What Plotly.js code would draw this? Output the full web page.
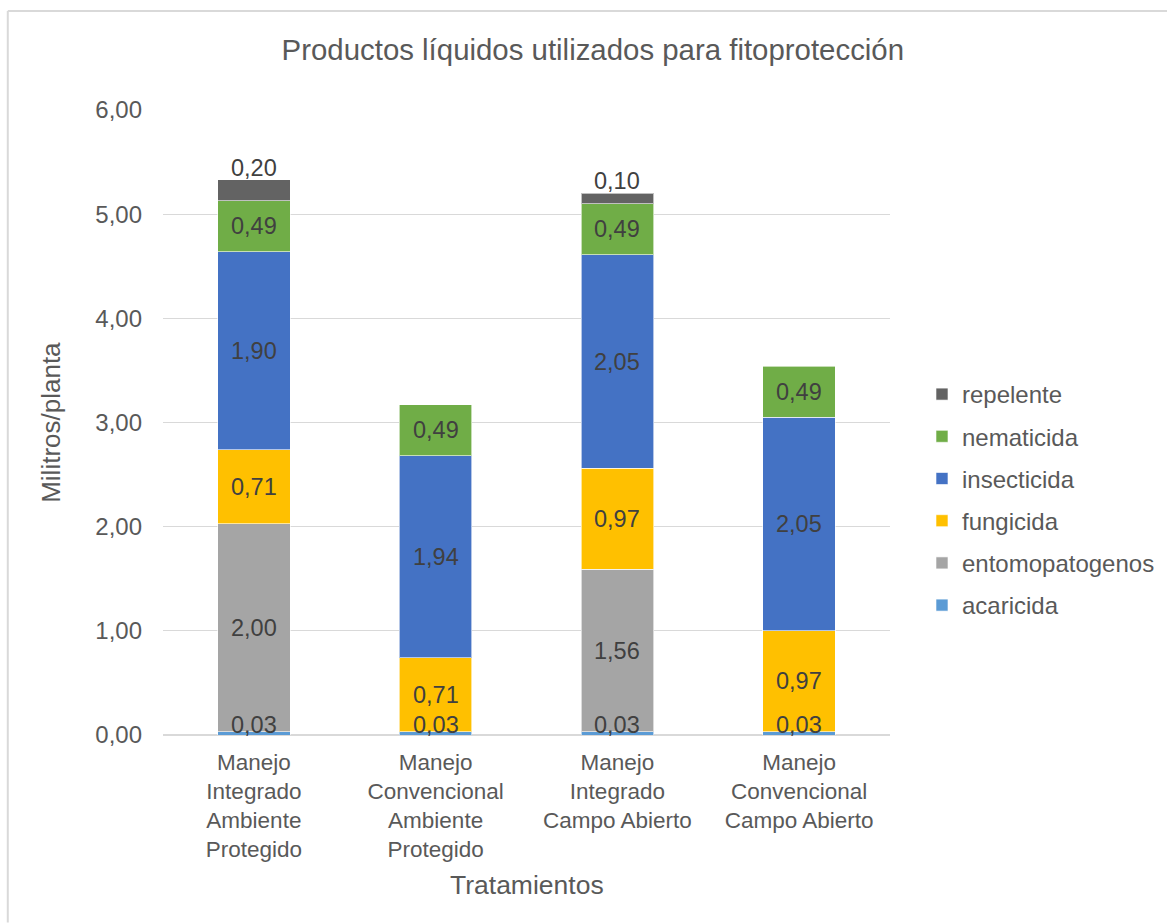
<!DOCTYPE html>
<html>
<head>
<meta charset="utf-8">
<script src="https://cdn.plot.ly/plotly-3.0.1.min.js"></script>
<style>html,body{margin:0;padding:0;background:#fff;}#chart{width:1167px;height:924px;}</style>
</head>
<body>
<div id="chart"></div>
<script>
const categories = [
  "Manejo<br>Integrado<br>Ambiente<br>Protegido",
  "Manejo<br>Convencional<br>Ambiente<br>Protegido",
  "Manejo<br>Integrado<br>Campo Abierto",
  "Manejo<br>Convencional<br>Campo Abierto"
];
const acaricida       = [0.03, 0.03, 0.03, 0.03];
const entomopatogenos = [2.00, null, 1.56, null];
const fungicida       = [0.71, 0.71, 0.97, 0.97];
const insecticida     = [1.90, 1.94, 2.05, 2.05];
const nematicida      = [0.49, 0.49, 0.49, 0.49];
const repelente       = [0.20, null, 0.10, null];

const seriesNames = ["acaricida","entomopatogenos","fungicida","insecticida","nematicida","repelente"];
const seriesValues = [acaricida, entomopatogenos, fungicida, insecticida, nematicida, repelente];
const seriesColors = ["#5B9BD5","#A5A5A5","#FFC000","#4472C4","#70AD47","#636363"];

const FONT = '"Liberation Sans", Arial, sans-serif';
const xIdx = categories.map((c,i)=>i);
const traces = seriesNames.map((name,k)=>({
  type:'bar', name:name, x:xIdx, y:seriesValues[k],
  marker:{color:seriesColors[k], line:{color:'rgba(255,255,255,0.6)', width:1}},
  legendgroup:name, legendrank:seriesNames.length-k, hoverinfo:'skip'
}));

const fmt = v => v.toFixed(2).replace('.',',');
const labelFont = {family:FONT, size:23.5, color:'#404040'};
const annotations = [];
for (let i=0;i<categories.length;i++){
  let base = 0;
  for (let k=0;k<seriesValues.length;k++){
    const v = seriesValues[k][i];
    if (v===null || v===undefined) continue;
    const name = seriesNames[k];
    if (name==='acaricida'){
      annotations.push({x:i, y:base, text:fmt(v), showarrow:false, yanchor:'middle', yshift:10, font:labelFont});
    } else if (name==='repelente'){
      annotations.push({x:i, y:base+v, text:fmt(v), showarrow:false, yanchor:'bottom', yshift:-3, font:labelFont});
    } else {
      annotations.push({x:i, y:base+v/2, text:fmt(v), showarrow:false, yanchor:'middle', font:labelFont});
    }
    base += v;
  }
}
annotations.push({xref:'paper', yref:'paper', x:0.5, y:-0.24, yanchor:'middle', xanchor:'center', text:'Tratamientos', showarrow:false, font:{family:FONT, size:26.5, color:'#595959'}});
annotations.push({xref:'paper', yref:'paper', x:-0.155, y:0.5, xanchor:'center', yanchor:'middle', textangle:-90, text:'Militros/planta', showarrow:false, font:{family:FONT, size:26, color:'#595959'}});

const layout = {
  width:1167, height:924,
  paper_bgcolor:'#fff', plot_bgcolor:'#fff',
  margin:{l:163, r:277, t:110, b:189, autoexpand:false},
  separators:',.',
  barmode:'stack', bargap:0.6,
  font:{family:FONT, color:'#595959', size:22},
  title:{text:'Productos líquidos utilizados para fitoprotección', x:0.508, xref:'container', y:0.946, yref:'container', yanchor:'middle',
    font:{family:FONT, size:29.4, color:'#595959'}},
  xaxis:{tickmode:'array', tickvals:xIdx, ticktext:categories, range:[-0.5,3.5], showgrid:false, zeroline:false,
    showline:false, ticks:'', tickfont:{family:FONT, size:22.5, color:'#595959'}, ticklabelstandoff:11},
  yaxis:{range:[0,6], dtick:1, tickformat:'.2f', showgrid:true, gridcolor:'#d9d9d9', gridwidth:1,
    zeroline:true, zerolinecolor:'#d9d9d9', zerolinewidth:2, ticks:'', ticklabelstandoff:20,
    tickfont:{family:FONT, size:24, color:'#595959'}},
  legend:{traceorder:'grouped', tracegroupgap:8, x:1.044, xanchor:'left', y:0.376, yanchor:'middle',
    font:{family:FONT, size:24, color:'#595959'}, itemwidth:30, bgcolor:'rgba(0,0,0,0)'},
  annotations:annotations,
  shapes:[
    {type:'line', xref:'paper', yref:'paper', x0:-0.2135, x1:-0.2135, y0:1.1584, y1:-0.3, line:{color:'#d9d9d9', width:2}},
    {type:'line', xref:'paper', yref:'paper', x0:-0.2135, x1:1.4, y0:1.1584, y1:1.1584, line:{color:'#d9d9d9', width:2}}
  ]
};
Plotly.newPlot('chart', traces, layout, {displayModeBar:false, staticPlot:true});
</script>
</body>
</html>
